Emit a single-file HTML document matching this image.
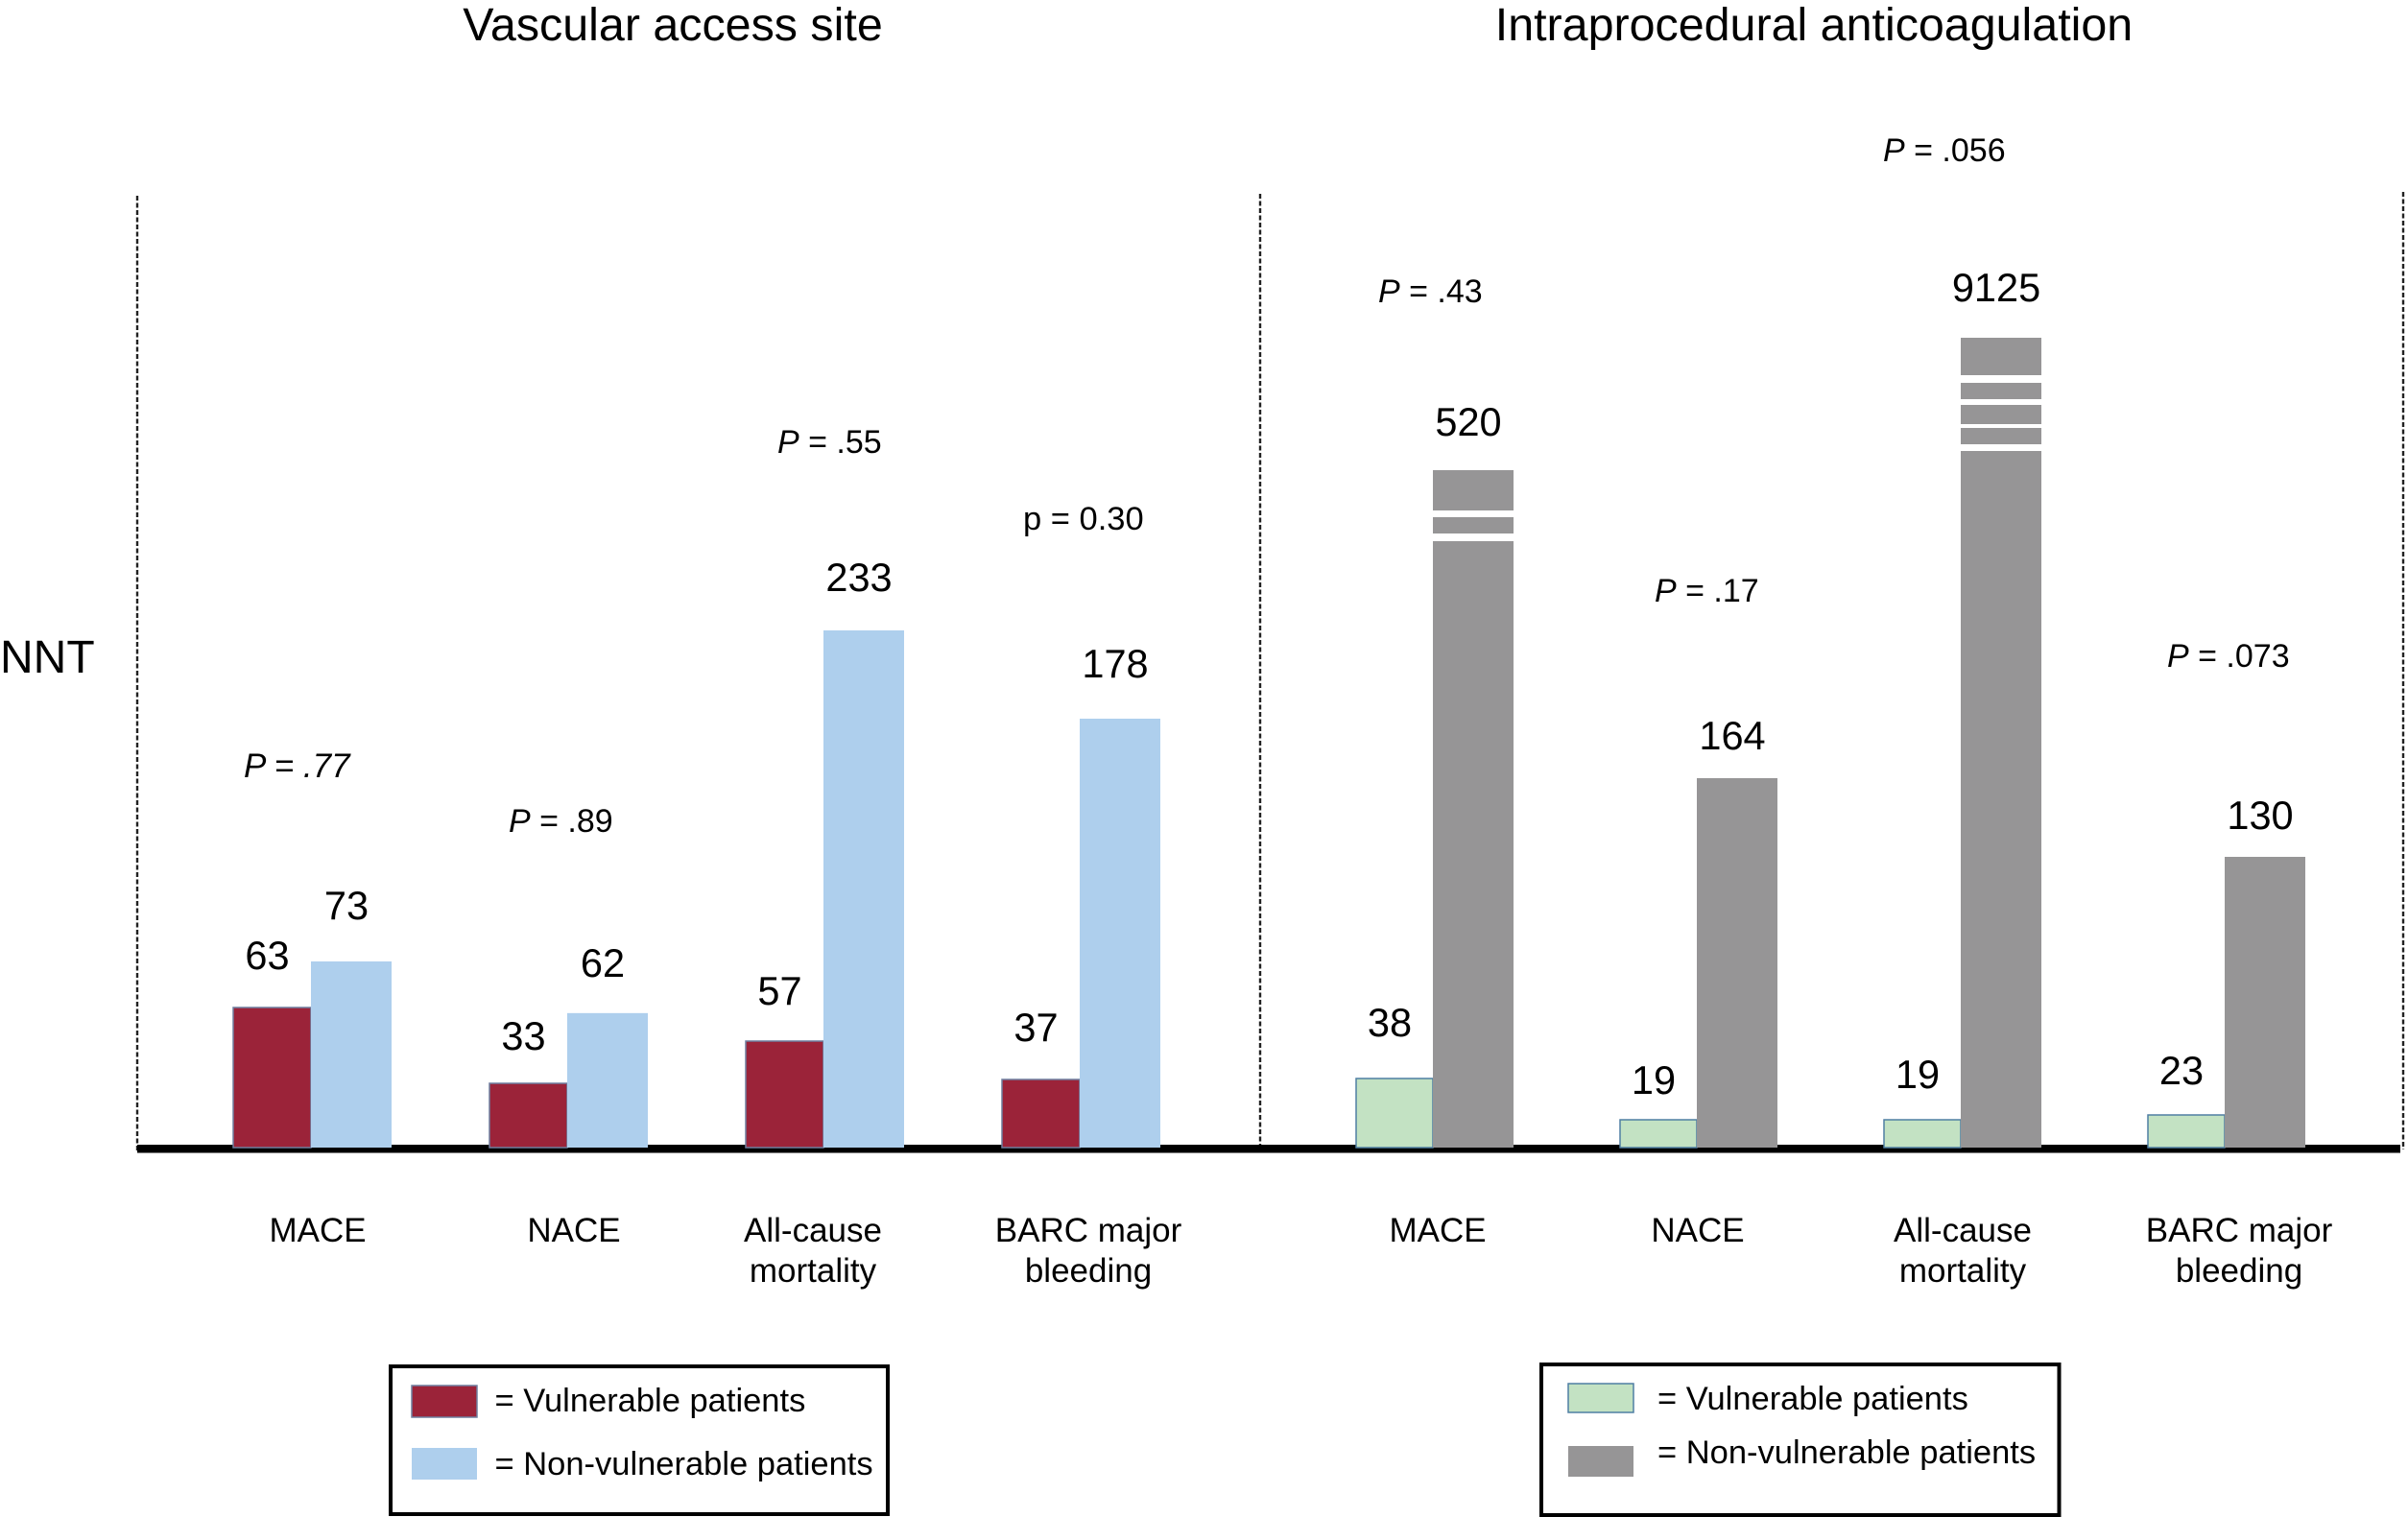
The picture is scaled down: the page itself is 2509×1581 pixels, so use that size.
<!DOCTYPE html>
<html lang="en">
<head>
<meta charset="utf-8">
<title>NNT by vascular access site and intraprocedural anticoagulation</title>
<style>
  html, body { margin: 0; padding: 0; background: #fff; }
  svg { display: block; font-family: "Liberation Sans", Arial, sans-serif; fill: #000; }
  .title { font-size: 48.4px; text-anchor: middle; }
  .pval { font-size: 34px; }
  .legend-text { font-size: 34.5px; }
</style>
</head>
<body>
<svg id="chart" width="2509" height="1581" viewBox="0 0 2509 1581" xmlns="http://www.w3.org/2000/svg">
  <rect x="0" y="0" width="2509" height="1581" fill="#fff"/>

  <text class="title" x="701" y="42">Vascular access site</text>
  <text class="title" x="1890" y="42">Intraprocedural anticoagulation</text>
  <text x="0" y="701" font-size="48">NNT</text>

  <line x1="143" y1="204" x2="143" y2="1201" stroke="#222" stroke-width="2.4" stroke-dasharray="5 2.5"/>
  <line x1="1313" y1="202" x2="1313" y2="1195" stroke="#222" stroke-width="2.4" stroke-dasharray="5 2.5"/>
  <line x1="2504" y1="200" x2="2504" y2="1198" stroke="#222" stroke-width="2.4" stroke-dasharray="5 2.5"/>
  <rect x="143" y="1193" width="2358" height="8.5" fill="#000"/>

  <g id="bars"></g>
  <g id="labels"></g>

  <text class="pval" x="254" y="810" font-size="35" style="font-size:35px" font-style="italic">P = .77</text>
  <text class="pval" x="530" y="867"><tspan font-style="italic">P</tspan> = .89</text>
  <text class="pval" x="810" y="472"><tspan font-style="italic">P</tspan> = .55</text>
  <text class="pval" x="1066" y="552" style="font-size:34.5px">p = 0.30</text>
  <text class="pval" x="1436" y="315"><tspan font-style="italic">P</tspan> = .43</text>
  <text class="pval" x="1724" y="627"><tspan font-style="italic">P</tspan> = .17</text>
  <text class="pval" x="1962" y="168"><tspan font-style="italic">P</tspan> = .056</text>
  <text class="pval" x="2258" y="695"><tspan font-style="italic">P</tspan> = .073</text>

  <g>
    <rect x="407" y="1424" width="518" height="154" fill="#fff" stroke="#000" stroke-width="4"/>
    <rect x="429" y="1444" width="68" height="33" fill="#9b2339" stroke="#6f7f9f" stroke-width="1.5"/>
    <text class="legend-text" x="515.5" y="1471">= Vulnerable patients</text>
    <rect x="429" y="1509" width="68" height="33" fill="#aecfed"/>
    <text class="legend-text" x="515.5" y="1537">= Non-vulnerable patients</text>
  </g>
  <g>
    <rect x="1606" y="1422" width="539.5" height="157" fill="#fff" stroke="#000" stroke-width="4"/>
    <rect x="1634" y="1442" width="68" height="30" fill="#c3e2c3" stroke="#4f7fa3" stroke-width="1.5"/>
    <text class="legend-text" x="1727" y="1469">= Vulnerable patients</text>
    <rect x="1634" y="1507" width="68" height="32" fill="#969596"/>
    <text class="legend-text" x="1727" y="1525">= Non-vulnerable patients</text>
  </g>
</svg>

<script>
const categories = ['MACE', 'NACE', 'All-cause mortality', 'BARC major bleeding'];
const vascularVulnerable = [63, 33, 57, 37];
const vascularNonVulnerable = [73, 62, 233, 178];
const anticoagulationVulnerable = [38, 19, 19, 23];
const anticoagulationNonVulnerable = [520, 164, 9125, 130];

const NS = 'http://www.w3.org/2000/svg';
const barLayer = document.getElementById('bars');
const labelLayer = document.getElementById('labels');
const BASELINE = 1196;

// The published y axis is unlabelled, not to scale and broken for large NNT:
// a piecewise axis maps an NNT value to a bar height in pixels.
function barHeight(value) {
  const domain = [0, 19, 23, 33, 38, 57, 63, 73, 130, 164, 178, 233, 520, 9125];
  const range = [0, 29, 34, 67, 72, 111, 146, 194, 303, 385, 447, 539, 706, 844];
  if (value <= 0) return 0;
  for (let k = 1; k < domain.length; k++) {
    if (value <= domain[k]) {
      const t = (value - domain[k - 1]) / (domain[k] - domain[k - 1]);
      return range[k - 1] + t * (range[k] - range[k - 1]);
    }
  }
  return range[range.length - 1];
}
function yScale(value) {
  return BASELINE - barHeight(value);
}
// Axis-break stripes shown on very large bars, measured from the bar top.
function breakStripes(value) {
  if (value >= 5000) return [[39, 8], [64, 6], [90, 4], [111, 7]];
  if (value >= 500) return [[42, 7], [66, 8]];
  return [];
}

function drawBar(x, width, value, fill, stroke, name) {
  const top = yScale(value);
  const bar = document.createElementNS(NS, 'rect');
  
  
  bar.setAttribute('x', x);
  bar.setAttribute('y', top);
  bar.setAttribute('width', width);
  bar.setAttribute('height', BASELINE - top);
  bar.setAttribute('fill', fill);
  if (stroke) {
    bar.setAttribute('stroke', stroke);
    bar.setAttribute('stroke-width', '1.5');
  }
  barLayer.appendChild(bar);
  breakStripes(value).forEach(function (stripe) {
    const gap = document.createElementNS(NS, 'rect');
    
    
    gap.setAttribute('x', x - 2);
    gap.setAttribute('y', top + stripe[0]);
    gap.setAttribute('width', width + 4);
    gap.setAttribute('height', stripe[1]);
    gap.setAttribute('fill', '#fff');
    barLayer.appendChild(gap);
  });
}

function drawValueLabel(x, y, value, name) {
  const label = document.createElementNS(NS, 'text');
  
  
  label.setAttribute('x', x);
  label.setAttribute('y', y);
  label.setAttribute('font-size', '41.5');
  label.setAttribute('text-anchor', 'middle');
  label.textContent = String(value);
  labelLayer.appendChild(label);
}

function drawCategory(center, text, name) {
  const cut = text.lastIndexOf(' ');
  const lines = cut < 0 ? [text] : [text.slice(0, cut), text.slice(cut + 1)];
  lines.forEach(function (line, n) {
    const label = document.createElementNS(NS, 'text');
    
    
    label.setAttribute('x', center);
    label.setAttribute('y', 1294 + n * 42);
    label.setAttribute('font-size', '35');
    label.setAttribute('text-anchor', 'middle');
    label.textContent = line;
    labelLayer.appendChild(label);
  });
}

function drawPanel(cfg) {
  categories.forEach(function (cat, i) {
    const x0 = cfg.start + cfg.step * i;
    const slug = cat.toLowerCase().replace(/[^a-z]+/g, '-');
    const v = cfg.vulnerable[i];
    const n = cfg.nonVulnerable[i];
    drawBar(x0, cfg.widthA, v, cfg.colorA, cfg.strokeA, cfg.id + '-bar-vulnerable-' + slug);
    drawBar(x0 + cfg.widthA, cfg.widthB, n, cfg.colorB, null, cfg.id + '-bar-non-vulnerable-' + slug);
    drawValueLabel(x0 + cfg.widthA / 2 - 5, yScale(v) - cfg.gapA(i), v, cfg.id + '-value-vulnerable-' + slug);
    drawValueLabel(x0 + cfg.widthA + cfg.widthB / 2 - 5, yScale(n) - cfg.gapB(i), n, cfg.id + '-value-non-vulnerable-' + slug);
    drawCategory(cfg.labelCenter(i), cat, cfg.id + '-category-label-' + slug);
  });
}

drawPanel({
  id: 'vascular',
  start: 243, step: 267, widthA: 81, widthB: 84,
  colorA: '#9b2339', strokeA: '#6f7f9f', colorB: '#aecfed',
  gapA: function (i) { return [40, 35, 38, 40][i]; },
  gapB: function (i) { return [44, 38, 41, 43][i]; },
  vulnerable: vascularVulnerable,
  nonVulnerable: vascularNonVulnerable,
  labelCenter: function (i) { return [331, 598, 847, 1134][i]; }
});
drawPanel({
  id: 'anticoagulation',
  start: 1413, step: 275, widthA: 80, widthB: 84,
  colorA: '#c3e2c3', strokeA: '#4f7fa3', colorB: '#969596',
  gapA: function (i) { return [44, 27, 33, 32][i]; },
  gapB: function (i) { return [36, 30, 38, 29][i]; },
  vulnerable: anticoagulationVulnerable,
  nonVulnerable: anticoagulationNonVulnerable,
  labelCenter: function (i) { return [1498, 1769, 2045, 2333][i]; }
});
</script>
</body>
</html>
